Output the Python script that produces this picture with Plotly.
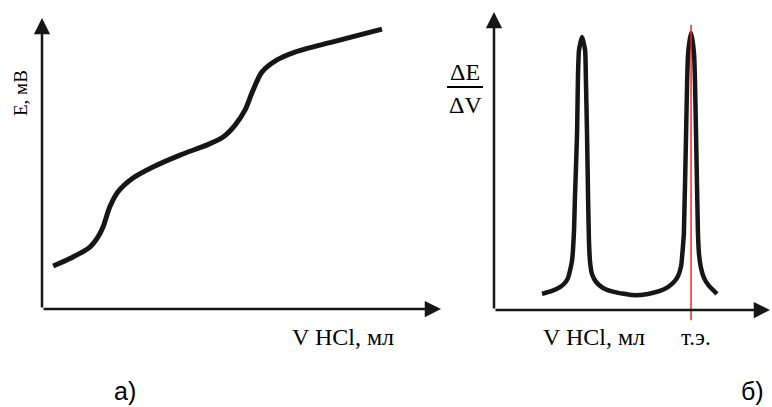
import plotly.graph_objects as go

W, H = 772, 407

# Potentiometric titration curve, E = f(V HCl)
vol_a = [0.28, 0.78, 1.20, 1.40, 1.53, 1.70, 1.90, 2.28, 2.78, 3.46, 4.14, 4.54,
         4.84, 5.09, 5.26, 5.51, 5.89, 6.34, 7.29, 8.52]
emf_a = [1.48, 1.79, 2.13, 2.47, 2.82, 3.51, 4.02, 4.50, 4.88, 5.29, 5.64, 5.91,
         6.32, 6.84, 7.42, 8.14, 8.56, 8.83, 9.18, 9.62]

# First-derivative curve, dE/dV = f(V HCl)
vol_b = [1.74, 2.10, 2.39, 2.57, 2.68, 2.75, 2.83, 2.90, 2.93, 3.01, 3.04, 3.08,
         3.19, 3.30, 3.33, 3.37, 3.41, 3.44, 3.48, 3.55, 3.70, 3.95, 4.38, 5.04,
         5.58, 6.01, 6.30, 6.52, 6.67, 6.78, 6.85, 6.88, 6.96, 7.03, 7.14, 7.25,
         7.32, 7.39, 7.43, 7.50, 7.61, 7.79, 8.08]
deriv_b = [0.54, 0.64, 0.77, 0.91, 1.07, 1.31, 1.68, 2.68, 3.69, 5.94, 7.72, 8.72,
           9.16, 8.72, 7.72, 5.94, 3.69, 2.35, 1.61, 1.21, 0.94, 0.74, 0.60, 0.50,
           0.54, 0.64, 0.77, 0.94, 1.14, 1.48, 2.18, 2.58, 5.94, 8.56, 9.30, 8.56,
           5.94, 2.58, 1.85, 1.41, 1.07, 0.81, 0.54]

# Equivalence point (т.э.) at the second maximum
v_eq = 7.14
eq_line_y = [-0.34, 9.56]

AXIS_MAX = 10.0


def domain_for(p0, p10, lo, hi, total, flip=False):
    """Domain of an axis whose values 0 and 10 sit at pixels p0 and p10."""
    per = (p10 - p0) / AXIS_MAX
    a = p0 + lo * per
    b = p0 + hi * per
    if flip:
        a, b = total - a, total - b
    return [min(a, b) / total, max(a, b) / total]


def px(x):
    return x / W


def py(y):
    return 1 - y / H


xr_a, yr_a = [-1, 10.5], [-1, 10.5]
xr_b, yr_b = [-1, 10.05], [-1, 10.3]

fig = go.Figure()

ink = "#161616"

fig.add_trace(go.Scatter(
    x=vol_a, y=emf_a, mode="lines",
    line=dict(color=ink, width=5, shape="spline", smoothing=0.8),
    xaxis="x", yaxis="y", hoverinfo="skip"))

fig.add_trace(go.Scatter(
    x=vol_b, y=deriv_b, mode="lines",
    line=dict(color=ink, width=4.5, shape="spline", smoothing=0.5),
    xaxis="x2", yaxis="y2", hoverinfo="skip"))

fig.add_trace(go.Scatter(
    x=[v_eq, v_eq], y=eq_line_y, mode="lines",
    line=dict(color="#ff2020", width=1.5),
    xaxis="x2", yaxis="y2", hoverinfo="skip"))

hidden = dict(showgrid=False, zeroline=False, showticklabels=False,
              ticks="", showline=False, fixedrange=True)

fig.update_layout(
    width=W, height=H,
    margin=dict(l=0, r=0, t=0, b=0),
    paper_bgcolor="white", plot_bgcolor="white",
    showlegend=False,
    xaxis=dict(range=xr_a, domain=domain_for(42, 441, *xr_a, W), anchor="y", **hidden),
    yaxis=dict(range=yr_a, domain=domain_for(309, 18, *yr_a, H, flip=True), anchor="x", **hidden),
    xaxis2=dict(range=xr_b, domain=domain_for(494, 770, *xr_b, W), anchor="y2", **hidden),
    yaxis2=dict(range=yr_b, domain=domain_for(310, 12, *yr_b, H, flip=True), anchor="x2", **hidden),
)

annotations = []

# Axis arrows
for xa, ya in (("x", "y"), ("x2", "y2")):
    annotations.append(dict(
        x=0, y=AXIS_MAX, ax=0, ay=0, xref=xa, yref=ya, axref=xa, ayref=ya,
        text="", showarrow=True, arrowhead=2, arrowsize=1.3, arrowwidth=2.5,
        arrowcolor=ink, standoff=0, startstandoff=0))
    annotations.append(dict(
        x=AXIS_MAX, y=0, ax=0, ay=0, xref=xa, yref=ya, axref=xa, ayref=ya,
        text="", showarrow=True, arrowhead=2, arrowsize=1.3, arrowwidth=2.5,
        arrowcolor=ink, standoff=0, startstandoff=0))

serif = "Liberation Serif"
sans = "Liberation Sans"


def label(text, x, y, size, family=serif, angle=0):
    annotations.append(dict(
        x=px(x), y=py(y), xref="paper", yref="paper", text=text,
        showarrow=False, xanchor="center", yanchor="middle", textangle=angle,
        font=dict(family=family, size=size, color="black")))


label("E, мВ", 21, 93, 19, angle=-90)
label("V HCl, мл", 343, 337, 24)
label("ΔE", 465, 72, 24)
label("ΔV", 465, 105, 24)
label("V HCl, мл", 594, 337, 24)
label("т.э.", 696, 337, 23)
label("а)", 125, 391, 25, family=sans)
label("б)", 752, 391, 25, family=sans)

fig.update_layout(annotations=annotations)

# Fraction bar of dE/dV
fig.add_shape(type="line", xref="paper", yref="paper",
              x0=px(447), x1=px(483), y0=py(87), y1=py(87),
              line=dict(color="black", width=2))

fig.write_html("out.html")
